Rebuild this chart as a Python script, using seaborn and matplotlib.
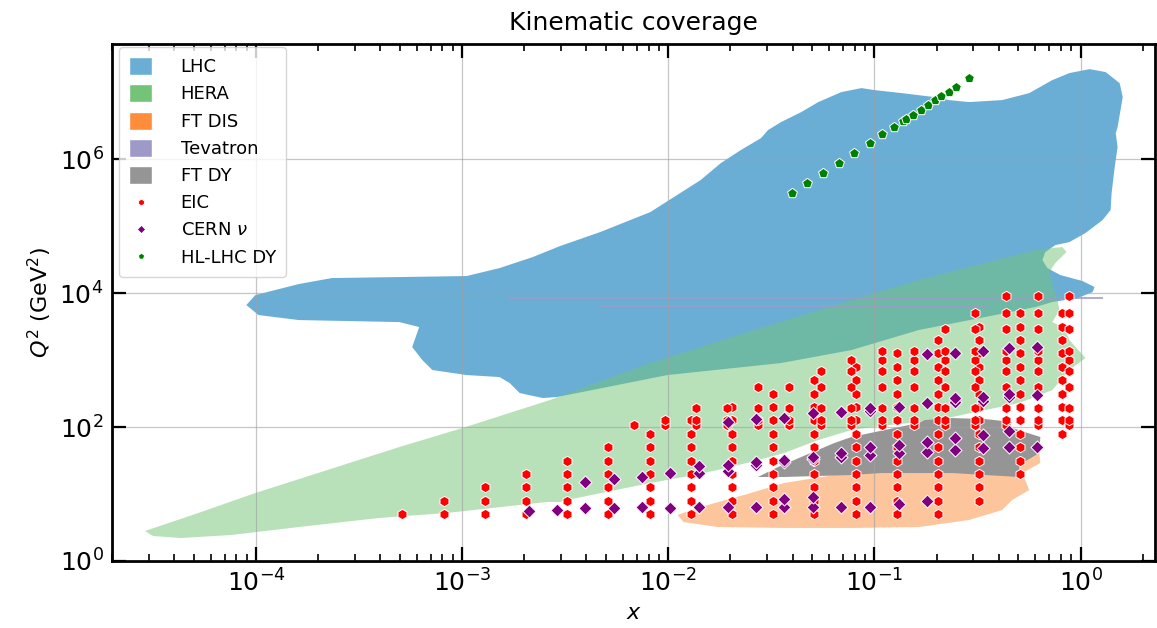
import numpy as np
import pandas as pd
import seaborn as sns
import matplotlib
matplotlib.use("Agg")
import matplotlib.pyplot as plt
from matplotlib.patches import Patch
from matplotlib.ticker import NullLocator

# ---- region outlines (log10 x, log10 Q^2) ----
LHC_LOGX = [-4.049, -4.005, -3.795, -3.634, -3.307, -2.980, -2.820, -2.659, -2.527, -2.332,
            -2.088, -1.844, -1.746, -1.649, -1.551, -1.517, -1.454, -1.356, -1.273, -1.161,
            -1.063, -1.000, -0.868, -0.707, -0.639, -0.541, -0.380, -0.249, -0.137, -0.054,
            0.044, 0.122, 0.190, 0.205, 0.180, 0.171, 0.180, 0.166, 0.151, 0.146,
            0.107, 0.024, -0.054, -0.122, -0.171, -0.185, -0.161, -0.098, 0.010, 0.068,
            0.059, -0.015, -0.137, -0.220, -0.463, -0.785, -1.112, -1.454, -2.005, -2.541,
            -2.610, -2.722, -2.771, -2.820, -2.980, -3.146, -3.195, -3.244, -3.210, -3.307,
            -3.795, -3.990]
LHC_LOGQ2 = [3.821, 3.970, 4.134, 4.224, 4.239, 4.254, 4.373, 4.537, 4.701, 4.910,
             5.209, 5.687, 5.940, 6.134, 6.313, 6.433, 6.552, 6.701, 6.851, 7.000,
             7.060, 7.030, 6.985, 6.925, 6.881, 6.851, 6.881, 6.985, 7.179, 7.284,
             7.343, 7.299, 7.134, 6.925, 6.478, 6.388, 6.179, 5.881, 5.493, 5.239,
             5.090, 4.896, 4.761, 4.716, 4.612, 4.493, 4.373, 4.269, 4.179, 4.090,
             4.015, 3.925, 3.866, 3.791, 3.642, 3.448, 3.149, 2.955, 2.776, 2.448,
             2.433, 2.507, 2.657, 2.746, 2.776, 2.851, 3.000, 3.194, 3.493, 3.567,
             3.597, 3.672]

HERA_LOGX = [-4.541, -4.283, -4.005, -3.307, -3.000, -2.576, -2.088, -1.600, -1.112, -0.785,
             -0.541, -0.220, -0.137, -0.088, -0.068, -0.122, -0.151, -0.137, -0.112, -0.102,
             -0.137, -0.078, -0.054, 0.024, -0.054, -0.137, -0.298, -0.463, -0.624, -0.785,
             -1.015, -1.112, -1.273, -1.439, -1.600, -1.761, -1.927, -2.088, -2.493, -2.527,
             -2.590, -3.078, -3.405, -3.795, -4.122, -4.366, -4.502]
HERA_LOGQ2 = [0.448, 0.716, 1.015, 1.701, 1.985, 2.403, 2.955, 3.433, 3.896, 4.194,
              4.388, 4.642, 4.672, 4.687, 4.612, 4.448, 4.313, 4.119, 3.896, 3.746,
              3.567, 3.478, 3.299, 3.030, 2.851, 2.552, 2.358, 2.254, 2.149, 2.075,
              2.000, 1.955, 1.806, 1.612, 1.478, 1.358, 1.254, 1.164, 0.910, 0.881,
              0.881, 0.716, 0.642, 0.507, 0.388, 0.343, 0.373]

FTDIS_LOGX = [-1.956, -1.844, -1.600, -1.439, -1.195, -1.029, -0.966, -0.785, -0.463, -0.298,
              -0.200, -0.195, -0.283, -0.249, -0.332, -0.380, -0.541, -0.785, -1.112, -1.439,
              -1.761, -1.927]
FTDIS_LOGQ2 = [0.687, 0.806, 1.015, 1.164, 1.284, 1.328, 1.313, 1.358, 1.463, 1.507,
               1.612, 1.463, 1.313, 1.060, 0.910, 0.761, 0.612, 0.507, 0.493, 0.493,
               0.507, 0.582]

FTDY_LOGX = [-1.566, -1.468, -1.356, -1.195, -1.112, -0.951, -0.785, -0.756, -0.624, -0.463,
             -0.332, -0.346, -0.195, -0.200, -0.298, -0.298, -0.624, -0.966, -1.112, -1.439]
FTDY_LOGQ2 = [1.254, 1.403, 1.552, 1.761, 1.851, 1.955, 2.060, 2.104, 2.134, 2.119,
              2.075, 2.000, 1.851, 1.612, 1.433, 1.254, 1.313, 1.313, 1.284, 1.254]

# Tevatron: two thin streaks (x range, Q^2 level)
TEV_X_START = [1.66e-3, 4.66e-3]
TEV_X_END = [1.28, 0.36]
TEV_Q2 = [8400, 6400]

# ---- EIC pseudo-data ----
EIC_ROWS = [5.0, 7.9, 12.6, 20, 31.6, 50, 79, 126, 200, 316, 501, 794, 1259, 1995, 3162, 5012]
EIC_A_X = [5.1e-4, 8.1e-4, 1.28e-3, 2.03e-3, 3.2e-3, 5.1e-3, 8.1e-3, 1.28e-2, 2.03e-2,
           3.2e-2, 5.1e-2, 8.1e-2, 0.128, 0.203, 0.32, 0.51, 0.81]
EIC_A_LO = [0, 0, 0, 0, 0, 0, 0, 0, 0, 0, 0, 0, 0, 0, 1, 3, 6]
EIC_A_HI = [0, 1, 2, 3, 4, 5, 6, 7, 8, 9, 10, 11, 12, 13, 14, 15, 15]

EIC_B_ROWS = [107, 126, 195, 390, 690, 1000, 1350, 2950, 5000, 9100]
EIC_B_X = [6.8e-3, 9.6e-3, 1.36e-2, 1.92e-2, 2.73e-2, 3.86e-2, 5.47e-2, 7.73e-2, 0.109,
           0.156, 0.219, 0.308, 0.436, 0.621, 0.881]
EIC_B_N = [1, 2, 3, 3, 4, 4, 5, 6, 7, 7, 8, 9, 10, 10, 10]

# ---- CERN neutrino ----
CERN_X = [2.10e-3, 2.88e-3, 3.94e-3, 5.42e-3, 7.43e-3, 1.02e-2, 1.40e-2, 1.94e-2, 2.66e-2,
          3.64e-2, 3.64e-2, 5.04e-2, 5.04e-2, 6.90e-2, 9.46e-2, 0.131, 0.180,
          3.94e-3, 5.42e-3, 7.43e-3, 1.02e-2, 1.40e-2, 1.40e-2, 1.94e-2, 1.94e-2, 2.66e-2,
          2.66e-2, 3.64e-2, 3.64e-2, 5.04e-2, 5.04e-2, 6.90e-2, 6.90e-2, 9.46e-2, 9.46e-2,
          0.131, 0.131, 0.180, 0.180, 0.246, 0.246, 0.337, 0.337, 0.451, 0.451, 0.617,
          1.94e-2, 2.66e-2, 3.64e-2, 5.04e-2, 6.90e-2, 9.46e-2, 9.46e-2, 0.131, 0.180,
          0.246, 0.246, 0.337, 0.337, 0.451, 0.451, 0.617,
          0.180, 0.246, 0.337, 0.451, 0.617]
CERN_Q2 = [5.57, 5.77, 6.18, 6.18, 6.29, 6.18, 6.29, 6.29, 6.29,
           6.29, 8.42, 6.33, 8.93, 6.46, 6.46, 7.09, 7.94,
           14.9, 16.6, 18.1, 20.8, 20.4, 26.4, 22.3, 27.1, 27.1,
           30.4, 30.4, 32.2, 33.3, 36.0, 36.0, 40.5, 38.2, 50.8,
           40.5, 53.9, 42.8, 60.4, 45.4, 67.8, 48.1, 76.0, 50.8, 88.1, 50.8,
           120, 132, 135, 163, 169, 173, 190, 201, 226,
           239, 268, 247, 283, 277, 308, 301,
           1230, 1285, 1377, 1496, 1580]

# ---- HL-LHC Drell-Yan ----
HLLHC_X = [0.0398, 0.0471, 0.0562, 0.0670, 0.0798, 0.0946, 0.109, 0.124, 0.138, 0.142,
           0.153, 0.168, 0.182, 0.197, 0.211, 0.229, 0.248, 0.289]
HLLHC_Q2 = [3.08e5, 4.34e5, 6.12e5, 8.7e5, 1.24e6, 1.75e6, 2.34e6, 2.97e6, 3.73e6, 3.92e6,
            4.58e6, 5.44e6, 6.46e6, 7.6e6, 8.8e6, 1.02e7, 1.19e7, 1.63e7]

# build EIC table
eic_x, eic_q2 = [], []
for x, lo, hi in zip(EIC_A_X, EIC_A_LO, EIC_A_HI):
    for q in EIC_ROWS[lo:hi + 1]:
        eic_x.append(x)
        eic_q2.append(q)
for x, n in zip(EIC_B_X, EIC_B_N):
    for q in EIC_B_ROWS[:n]:
        if q == 2950 and x == 0.156:
            continue
        eic_x.append(x)
        eic_q2.append(q)
eic = pd.DataFrame({"x": eic_x, "Q2": eic_q2})
cern = pd.DataFrame({"x": CERN_X, "Q2": CERN_Q2})
hllhc = pd.DataFrame({"x": HLLHC_X, "Q2": HLLHC_Q2})

sns.set_style("white")
plt.rcParams['font.family'] = ['DejaVu Sans']
plt.rcParams['mathtext.fontset'] = 'dejavusans'
for k in ['text.color', 'axes.labelcolor', 'xtick.color', 'ytick.color']:
    plt.rcParams[k] = 'black'

c_lhc = matplotlib.colormaps['Blues'](0.5)
c_hera = matplotlib.colormaps['Greens'](0.5)
c_ftdis = matplotlib.colormaps['Oranges'](0.5)
c_tev = matplotlib.colormaps['Purples'](0.5)
c_ftdy = matplotlib.colormaps['Greys'](0.5)

fig = plt.figure(figsize=(11.57, 6.28), dpi=100)
ax = fig.add_axes([0.0968, 0.1067, 0.9015, 0.823])
ax.set_xscale('log')
ax.set_yscale('log')

def pw(v):
    return np.power(10.0, np.array(v))

ax.fill(pw(LHC_LOGX), pw(LHC_LOGQ2), color=c_lhc, lw=0, zorder=1)
ax.fill(pw(HERA_LOGX), pw(HERA_LOGQ2), color=c_hera, alpha=0.5, lw=0, zorder=1)
ax.fill(pw(FTDIS_LOGX), pw(FTDIS_LOGQ2), color=c_ftdis, alpha=0.5, lw=0, zorder=1)
for xs, xe, q in zip(TEV_X_START, TEV_X_END, TEV_Q2):
    ax.fill_between([xs, xe], [q * 0.975, q * 0.975], [q * 1.025, q * 1.025],
                    color=c_tev, alpha=0.8, lw=0, zorder=1)
ax.fill(pw(FTDY_LOGX), pw(FTDY_LOGQ2), color=c_ftdy, lw=0, zorder=1)

ax.grid(True, which='major', color='#a0a0a0', lw=0.9, alpha=0.6, zorder=1.5)
ax.set_axisbelow(False)

sns.scatterplot(data=eic, x="x", y="Q2", marker='h', color='red', s=55,
                edgecolor='white', linewidth=0.7, label='EIC', ax=ax, zorder=3)
sns.scatterplot(data=cern, x="x", y="Q2", marker='D', color='purple', s=44,
                edgecolor='white', linewidth=0.7, label=r'CERN $\nu$', ax=ax, zorder=3)
sns.scatterplot(data=hllhc, x="x", y="Q2", marker='p', color='green', s=55,
                edgecolor='white', linewidth=0.7, label='HL-LHC DY', ax=ax, zorder=3)

ax.set_xlim(1.99e-5, 2.30)
ax.set_ylim(1, 5.2e7)
ax.set_yticks([1, 1e2, 1e4, 1e6])
ax.yaxis.set_minor_locator(NullLocator())

ax.tick_params(which='both', direction='in', top=True, right=True, bottom=True, left=True,
               color='black')
ax.tick_params(which='major', length=10, width=1.6, labelsize=18, pad=6)
ax.tick_params(which='minor', length=5, width=1.2)
for sp in ax.spines.values():
    sp.set_linewidth(2)
    sp.set_color('black')

ax.set_title('Kinematic coverage', fontsize=18, pad=10)
ax.set_xlabel(r'$x$', fontsize=16, labelpad=5)
ax.set_ylabel(r'$Q^2$ (GeV$^2$)', fontsize=16, labelpad=4)

patches = [Patch(facecolor=c, label=l) for c, l in
           [(c_lhc, 'LHC'), (c_hera, 'HERA'), (c_ftdis, 'FT DIS'),
            (c_tev, 'Tevatron'), (c_ftdy, 'FT DY')]]
h, l = ax.get_legend_handles_labels()
ax.legend(handles=patches + h, loc='upper left', bbox_to_anchor=(0.007, 0.994),
          borderaxespad=0, fontsize=13, markerscale=0.65,
          handlelength=1.25, handleheight=1.15, handletextpad=1.6, labelspacing=0.45,
          borderpad=0.55, framealpha=0.8)

fig.savefig('out.png', dpi=100)
